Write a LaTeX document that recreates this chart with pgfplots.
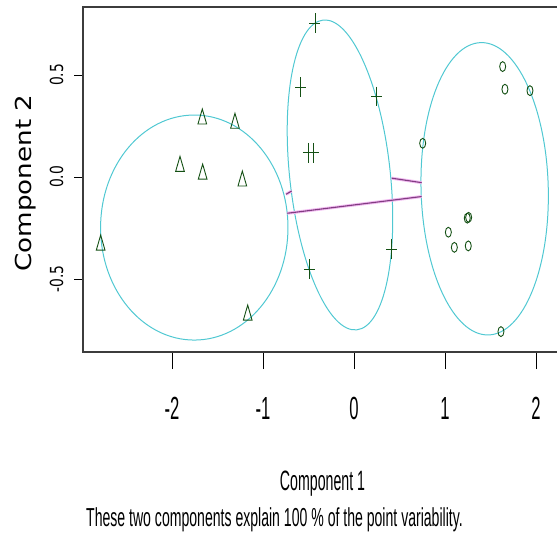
\documentclass[border=0pt]{standalone}
\usepackage{pgfplots}
\pgfplotsset{compat=1.18}
\usepackage{fontspec}
\setmainfont{Liberation Sans}
\newfontfamily\xtickfont[FakeStretch=0.52]{Liberation Sans}
\newfontfamily\xlabfont[FakeStretch=0.506]{Liberation Sans}
\newfontfamily\subfont[FakeStretch=0.541]{Liberation Sans}
\newfontfamily\ytickfont[FakeStretch=0.77]{DejaVu Sans}
\newfontfamily\ylabfont[FakeStretch=1.19]{DejaVu Sans}
\definecolor{ptcol}{RGB}{20,80,20}
\definecolor{ellcol}{RGB}{80,200,210}
\definecolor{lnpink}{RGB}{240,185,240}
\definecolor{lnpurp}{RGB}{130,60,130}
\definecolor{framecol}{RGB}{60,60,60}
\begin{document}
\begin{tikzpicture}[x=1pt,y=1pt]
\begin{axis}[
  scale only axis, width=478pt, height=345pt,
  xmin=-2.978, xmax=2.275, ymin=-0.858, ymax=0.833,
  axis line style={framecol, line width=1.5pt},
  tick align=outside, xtick pos=bottom, ytick pos=left,
  xtick={-2,-1,0,1,2}, xticklabels={-2,-1,0,1,2},
  ytick={-0.5,0,0.5}, yticklabels={-0.5,0.0,0.5},
  x tick style={black, line width=0.8pt, /pgfplots/major tick length=17pt},
  y tick style={black, line width=0.8pt, /pgfplots/major tick length=9pt},
  xticklabel style={font=\xtickfont\fontsize{32}{32}\selectfont, anchor=base, yshift=-63.5pt},
  yticklabel style={font=\ytickfont\fontsize{18}{18}\selectfont, xshift=-15.7pt, rotate=90, anchor=base},
]
% ellipses
\draw[ellcol, line width=1pt] (axis cs:-1.755,-0.248) ellipse [x radius=1.0297, y radius=0.5515];
\draw[ellcol, line width=1pt, rotate around={6.2:(axis cs:-0.154,0.0098)}] (axis cs:-0.154,0.0098) ellipse [x radius=0.5527, y radius=0.7637];
\draw[ellcol, line width=1pt, rotate around={1.5:(axis cs:1.436,-0.058)}] (axis cs:1.436,-0.058) ellipse [x radius=0.699, y radius=0.7167];
% connecting lines
\addplot[lnpink, line width=3pt, forget plot] coordinates {(-0.733,-0.178) (0.744,-0.096)};
\addplot[lnpink, line width=3pt, forget plot] coordinates {(-0.747,-0.085) (-0.685,-0.069)};
\addplot[lnpink, line width=3pt, forget plot] coordinates {(0.414,-0.006) (0.744,-0.028)};
\addplot[lnpurp, line width=1.1pt, forget plot] coordinates {(-0.733,-0.178) (0.744,-0.096)};
\addplot[lnpurp, line width=1.1pt, forget plot] coordinates {(-0.747,-0.085) (-0.685,-0.069)};
\addplot[lnpurp, line width=1.1pt, forget plot] coordinates {(0.414,-0.006) (0.744,-0.028)};
% cluster 1: triangles
\addplot[only marks, mark=triangle, mark size=5pt, mark options={draw=ptcol, line width=0.9pt, yscale=2, fill=none}] coordinates {
(-1.667,0.284) (-1.308,0.263) (-1.912,0.052) (-1.663,0.014) (-1.227,-0.020) (-2.784,-0.334) (-1.168,-0.677)};
% cluster 2: plus
\addplot[only marks, mark=+, mark size=5.5pt, mark options={draw=ptcol, line width=0.9pt, yscale=1.8}] coordinates {
(-0.429,0.754) (-0.586,0.440) (0.249,0.394) (-0.502,0.119) (-0.447,0.119) (0.414,-0.354) (-0.491,-0.452)};
% cluster 3: circles
\addplot[only marks, mark=o, mark size=3pt, mark options={draw=ptcol, line width=0.9pt, yscale=1.65, fill=none}] coordinates {
(1.634,0.541) (1.659,0.430) (1.934,0.423) (0.755,0.165) (1.245,-0.202) (1.260,-0.198) (1.037,-0.271) (1.103,-0.345) (1.256,-0.338) (1.615,-0.758)};
\end{axis}
\node[font=\ylabfont\fontsize{22}{22}\selectfont, rotate=90, anchor=base] at (-51,169) {Component 2};
\node[font=\xlabfont\fontsize{28}{28}\selectfont, anchor=base] at (239.5,-138) {Component 1};
\node[font=\subfont\fontsize{26}{26}\selectfont, anchor=base] at (191.5,-174) {These two components explain 100 \% of the point variability.};
\pgfresetboundingbox
\path[use as bounding box] (-83,-181) rectangle (474,352);
\end{tikzpicture}
\end{document}
